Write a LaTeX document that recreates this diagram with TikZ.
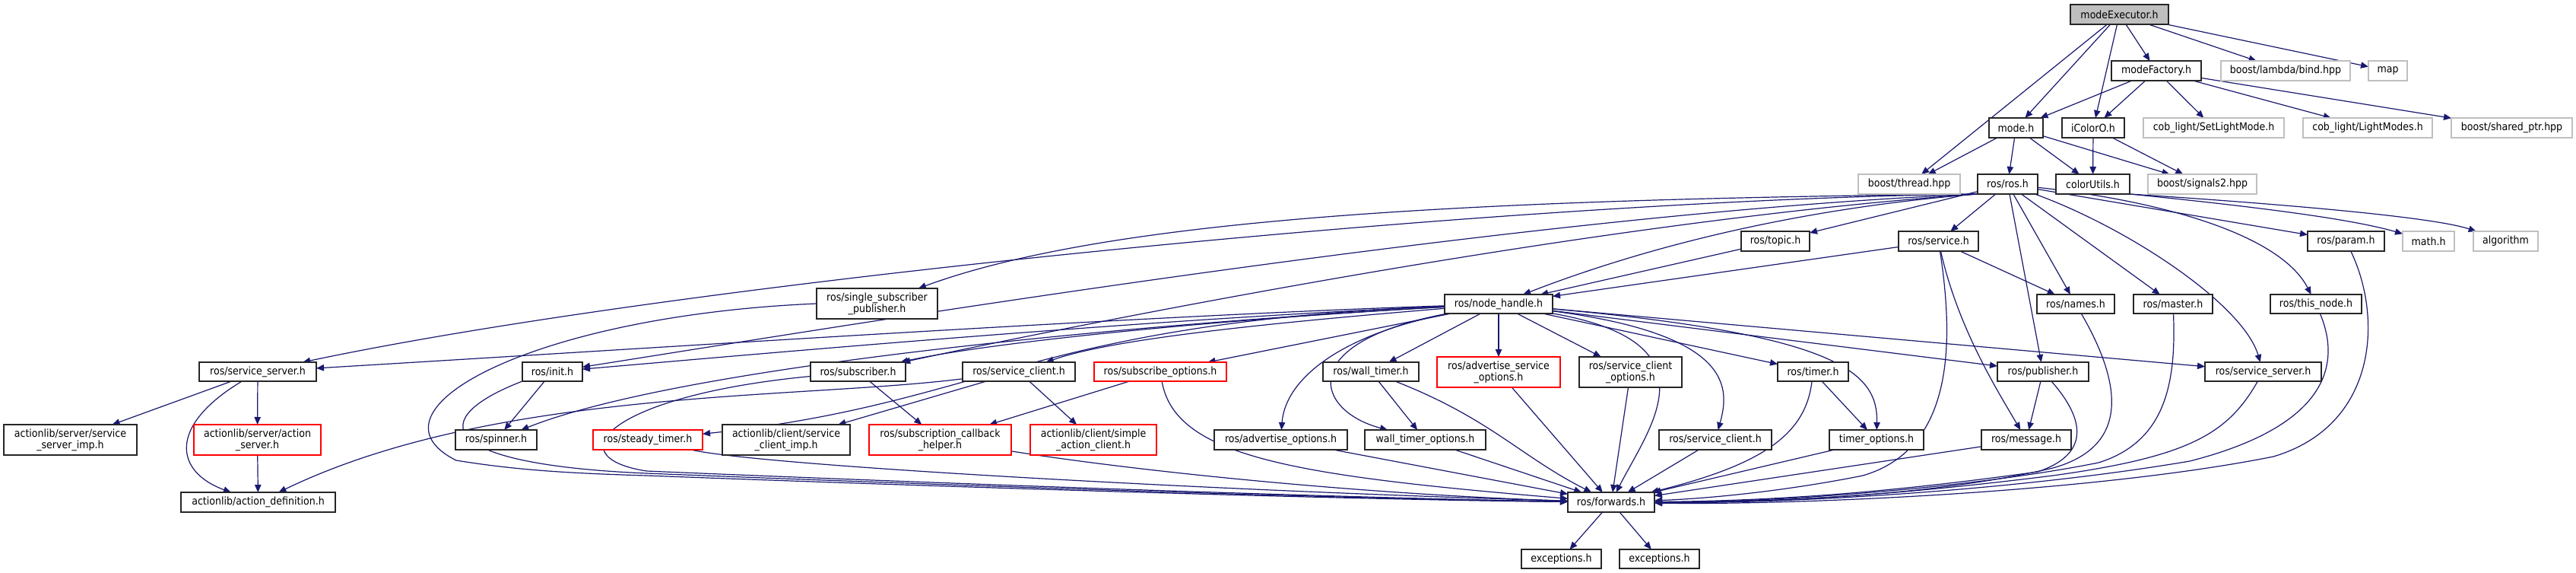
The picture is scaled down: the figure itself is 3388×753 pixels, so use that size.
\documentclass[tikz,border=0pt]{standalone}
\usepackage{fontspec}
\setmainfont{DejaVu Sans}[FakeStretch=0.9]
\usetikzlibrary{arrows.meta}
\pgfdeclarelayer{bg}
\pgfsetlayers{bg,main}
\definecolor{edgec}{HTML}{191970}
\definecolor{greyB}{HTML}{BFBFBF}
\definecolor{truncred}{HTML}{FF0000}
\newcommand\bx[7]{\node[#1, minimum width={(#5-#3)*0.5pt}, minimum height={(#6-#4)*0.5pt}] (#2) at ({(#3+#5)/2},{(#4+#6)/2}) {#7};}
\tikzset{
  base/.style={rectangle, inner sep=0pt, outer sep=0pt, font=\fontsize{7}{7.6}\selectfont, align=center, fill=white, line width=0.6pt},
  blk/.style={base, draw=black!85},
  gry/.style={base, draw=greyB},
  trunc/.style={base, draw=truncred},
  root/.style={base, draw=black!85, fill=greyB},
  e/.style={draw=edgec, line width=0.6pt, -{Triangle[length=5pt,width=4.2pt]}, fill=none}
}
\begin{document}
\begin{tikzpicture}[x=0.5pt, y=-0.5pt]
\useasboundingbox (0,0) rectangle (3388,753);
% nodes
\bx{root}{me}{2723}{6}{2852}{32}{modeExecutor.h}
\bx{blk}{mf}{2777}{80}{2895}{106}{modeFactory.h}
\bx{gry}{bind}{2921}{80}{3091}{106}{boost/lambda/bind.hpp}
\bx{gry}{map}{3115}{80}{3166}{106}{map}
\bx{blk}{mode}{2616}{155}{2687}{181}{mode.h}
\bx{blk}{icol}{2712}{155}{2794}{181}{iColorO.h}
\bx{gry}{setl}{2819}{155}{3004}{181}{cob\_light/SetLightMode.h}
\bx{gry}{lmod}{3029}{155}{3199}{181}{cob\_light/LightModes.h}
\bx{gry}{shp}{3224}{155}{3383}{181}{boost/shared\_ptr.hpp}
\bx{gry}{thr}{2444}{229}{2578}{255}{boost/thread.hpp}
\bx{blk}{ros}{2601}{229}{2680}{255}{ros/ros.h}
\bx{blk}{cu}{2704}{229}{2801}{255}{colorUtils.h}
\bx{gry}{sig}{2825}{229}{2968}{255}{boost/signals2.hpp}
\bx{blk}{topic}{2290}{304}{2380}{330}{ros/topic.h}
\bx{blk}{serv}{2497}{304}{2602}{330}{ros/service.h}
\bx{blk}{param}{3035}{304}{3136}{330}{ros/param.h}
\bx{gry}{math}{3160}{304}{3228}{330}{math.h}
\bx{gry}{algo}{3253}{304}{3338}{330}{algorithm}
\bx{blk}{ssp}{1074}{379}{1233}{419}{ros/single\_subscriber\\\_publisher.h}
\bx{blk}{nh}{1900}{387}{2042}{412}{ros/node\_handle.h}
\bx{blk}{names}{2679}{387}{2781}{412}{ros/names.h}
\bx{blk}{master}{2806}{387}{2910}{412}{ros/master.h}
\bx{blk}{tn}{2986}{387}{3106}{412}{ros/this\_node.h}
\bx{blk}{ssl}{262}{476}{416}{501}{ros/service\_server.h}
\bx{blk}{init}{687}{476}{766}{501}{ros/init.h}
\bx{blk}{sub}{1066}{476}{1191}{501}{ros/subscriber.h}
\bx{blk}{sc1}{1266}{476}{1414}{501}{ros/service\_client.h}
\bx{trunc}{subo}{1439}{476}{1613}{501}{ros/subscribe\_options.h}
\bx{blk}{wt}{1740}{476}{1866}{501}{ros/wall\_timer.h}
\bx{trunc}{aso}{1890}{469}{2052}{509}{ros/advertise\_service\\\_options.h}
\bx{blk}{sco}{2077}{469}{2212}{509}{ros/service\_client\\\_options.h}
\bx{blk}{timer}{2338}{476}{2431}{501}{ros/timer.h}
\bx{blk}{pub}{2627}{476}{2747}{501}{ros/publisher.h}
\bx{blk}{ssr}{2900}{476}{3053}{501}{ros/service\_server.h}
\bx{blk}{simp}{5}{558}{180}{598}{actionlib/server/service\\\_server\_imp.h}
\bx{trunc}{asrv}{255}{558}{422}{598}{actionlib/server/action\\\_server.h}
\bx{blk}{spin}{599}{565}{706}{591}{ros/spinner.h}
\bx{trunc}{steady}{780}{565}{924}{591}{ros/steady\_timer.h}
\bx{blk}{cimp}{950}{558}{1118}{598}{actionlib/client/service\\\_client\_imp.h}
\bx{trunc}{scb}{1143}{558}{1330}{598}{ros/subscription\_callback\\\_helper.h}
\bx{trunc}{sac}{1355}{558}{1521}{598}{actionlib/client/simple\\\_action\_client.h}
\bx{blk}{ao}{1597}{565}{1772}{591}{ros/advertise\_options.h}
\bx{blk}{wto}{1795}{565}{1954}{591}{wall\_timer\_options.h}
\bx{blk}{sc2}{2182}{565}{2330}{591}{ros/service\_client.h}
\bx{blk}{to}{2406}{565}{2530}{591}{timer\_options.h}
\bx{blk}{msg}{2606}{565}{2724}{591}{ros/message.h}
\bx{blk}{adef}{238}{647}{441}{673}{actionlib/action\_definition.h}
\bx{blk}{fwd}{2062}{647}{2176}{673}{ros/forwards.h}
\bx{blk}{exc1}{2001}{722}{2106}{747}{exceptions.h}
\bx{blk}{exc2}{2130}{722}{2235}{747}{exceptions.h}
\begin{pgfonlayer}{bg}
\fill[white] (0,0) rectangle (3388,753);
% modeExecutor
\draw[e] (me) -- (thr);
\draw[e] (me) -- (mode);
\draw[e] (me) -- (icol);
\draw[e] (me) -- (mf);
\draw[e] (me) -- (bind);
\draw[e] (me) -- (map);
% modeFactory
\draw[e] (mf) -- (mode);
\draw[e] (mf) -- (icol);
\draw[e] (mf) -- (setl);
\draw[e] (mf) -- (lmod);
\draw[e] (mf) -- (shp);
% mode, iColorO
\draw[e] (mode) -- (thr);
\draw[e] (mode) -- (ros);
\draw[e] (mode) -- (cu);
\draw[e] (mode) -- (sig);
\draw[e] (icol) -- (cu);
\draw[e] (icol) -- (sig);
% colorUtils
\draw[e] (cu.south east) .. controls (3000,275) and (3100,290) .. (math);
\draw[e] (cu.south east) .. controls (3000,268) and (3200,285) .. (algo);
% ros.h
\draw[e] (ros.south west) .. controls (2000,262) and (900,370) .. (ssl);
\draw[e] (ros.south west) .. controls (1900,262) and (1450,290) .. (ssp);
\draw[e] (ros.south west) .. controls (2350,275) and (2150,330) .. (nh);
\draw[e] (ros.south west) .. controls (2000,280) and (1100,430) .. (init);
\draw[e] (ros.south west) .. controls (2100,290) and (1450,420) .. (sub);
\draw[e] (ros) -- (topic);
\draw[e] (ros) -- (serv);
\draw[e] (ros) -- (names);
\draw[e] (ros) -- (master);
\draw[e] (ros) -- (pub);
\draw[e] (ros) .. controls (2800,300) and (2950,400) .. (ssr);
\draw[e] (ros) -- (param);
\draw[e] (ros) .. controls (2850,265) and (3000,310) .. (tn);
% topic, service
\draw[e] (topic) -- (nh);
\draw[e] (serv) -- (nh);
\draw[e] (serv) -- (names);
\draw[e] (serv) .. controls (2575,430) and (2625,510) .. (msg);
\draw[e] (serv) .. controls (2570,450) and (2570,590) .. (2450,625) .. controls (2350,645) and (2250,655) .. (fwd);
% node_handle
\draw[e] (nh) .. controls (1500,415) and (900,455) .. (ssl);
\draw[e] (nh) .. controls (1500,420) and (1000,465) .. (init);
\draw[e] (nh) .. controls (1600,420) and (1300,450) .. (sub);
\draw[e] (nh) .. controls (1500,425) and (900,480) .. (spin);
\draw[e] (nh) .. controls (1350,425) and (1300,530) .. (steady);
\draw[e] (nh) .. controls (1600,430) and (1450,450) .. (sc1);
\draw[e] (nh) -- (subo);
\draw[e] (nh) .. controls (1760,440) and (1690,500) .. (ao);
\draw[e] (nh) .. controls (1700,450) and (1730,540) .. (wto);
\draw[e] (nh) -- (wt);
\draw[e] (nh) -- (aso);
\draw[e] (nh) -- (sco);
\draw[e] (nh) .. controls (2260,450) and (2170,560) .. (fwd);
\draw[e] (nh) .. controls (2280,440) and (2275,510) .. (sc2);
\draw[e] (nh) -- (timer);
\draw[e] (nh) .. controls (2420,440) and (2470,490) .. (to);
\draw[e] (nh) -- (pub);
\draw[e] (nh) -- (ssr);
% right-side to forwards
\draw[e] (names) .. controls (2800,520) and (2790,590) .. (2700,615) .. controls (2550,650) and (2350,660) .. (fwd);
\draw[e] (master) .. controls (2862,500) and (2850,580) .. (2760,608) .. controls (2600,640) and (2350,660) .. (fwd);
\draw[e] (tn) .. controls (3080,480) and (3060,560) .. (2880,606) .. controls (2650,645) and (2350,662) .. (fwd);
\draw[e] (param) .. controls (3135,420) and (3125,560) .. (2990,600) .. controls (2750,648) and (2350,664) .. (fwd);
\draw[e] (ssr) .. controls (2930,570) and (2880,600) .. (2700,625) .. controls (2500,650) and (2350,660) .. (fwd);
\draw[e] (pub) -- (msg);
\draw[e] (pub) .. controls (2750,560) and (2740,600) .. (2680,620) .. controls (2500,645) and (2350,658) .. (fwd);
\draw[e] (msg) -- (fwd);
\draw[e] (to) -- (fwd);
\draw[e] (timer) -- (to);
\draw[e] (timer) .. controls (2375,570) and (2320,610) .. (fwd);
\draw[e] (sc2) -- (fwd);
\draw[e] (sco) -- (fwd);
\draw[e] (aso) -- (fwd);
\draw[e] (wt) -- (wto);
\draw[e] (wt) .. controls (1960,550) and (2000,600) .. (fwd);
\draw[e] (wto) -- (fwd);
\draw[e] (ao) -- (fwd);
% left side
\draw[e] (subo) -- (scb);
\draw[e] (subo) .. controls (1545,600) and (1700,625) .. (fwd);
\draw[e] (scb) .. controls (1500,620) and (1800,650) .. (fwd);
\draw[e] (sc1) -- (cimp);
\draw[e] (sc1) -- (sac);
\draw[e] (sc1) .. controls (1050,525) and (650,510) .. (adef);
\draw[e] (sub) -- (scb);
\draw[e] (sub) .. controls (800,520) and (730,600) .. (850,619) .. controls (1300,638) and (1800,655) .. (fwd);
\draw[e] (steady) .. controls (1000,612) and (1600,645) .. (fwd);
\draw[e] (init) -- (spin);
\draw[e] (init.south west) .. controls (560,550) and (570,610) .. (850,622) .. controls (1300,640) and (1800,656) .. (fwd);
\draw[e] (ssp.west) .. controls (700,415) and (470,540) .. (600,605) .. controls (680,618) and (750,622) .. (850,625) .. controls (1300,642) and (1800,657) .. (fwd);
\draw[e] (ssl) -- (simp);
\draw[e] (ssl) -- (asrv);
\draw[e] (ssl) .. controls (220,560) and (230,620) .. (adef);
\draw[e] (asrv) -- (adef);
% forwards
\draw[e] (fwd) -- (exc1);
\draw[e] (fwd) -- (exc2);
\end{pgfonlayer}
\end{tikzpicture}
\end{document}
